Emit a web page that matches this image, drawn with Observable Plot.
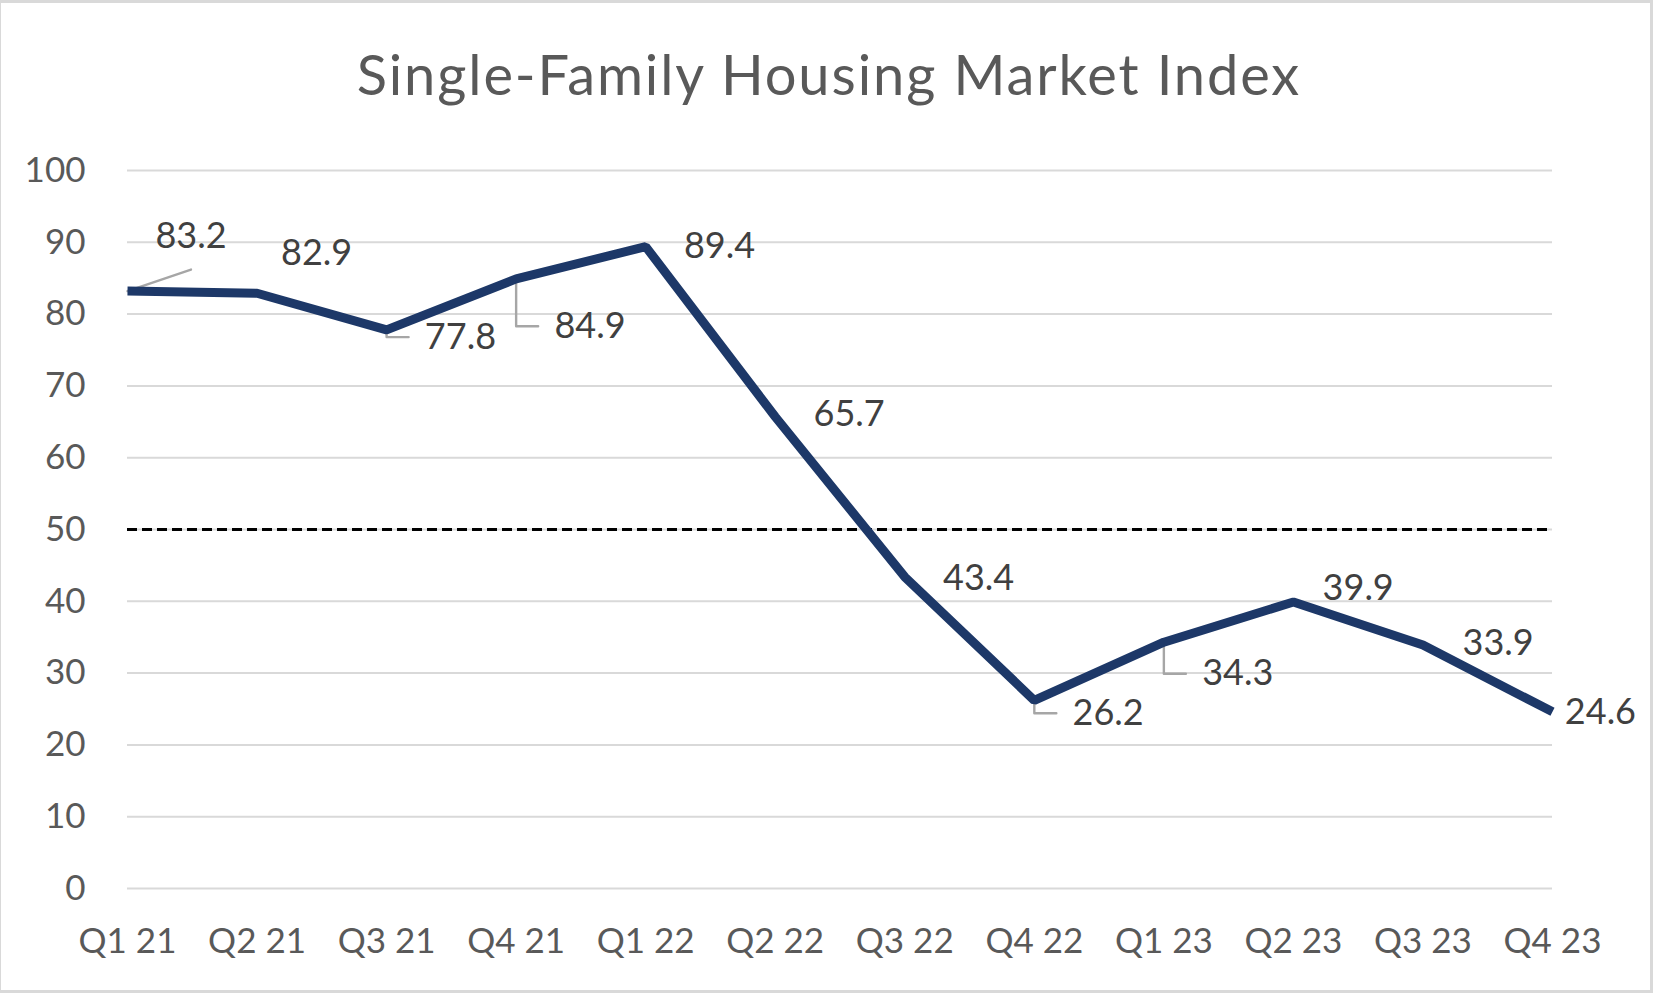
<!DOCTYPE html>
<html>
<head>
<meta charset="utf-8">
<script src="https://cdn.jsdelivr.net/npm/d3@7"></script>
<script src="https://cdn.jsdelivr.net/npm/@observablehq/plot@0.6"></script>
<style>
  html, body { margin: 0; padding: 0; background: #fff; }
  #wrap { position: relative; width: 1653px; height: 993px; overflow: hidden; background: #fff; font-family: Lato, sans-serif; }
  #frame { position: absolute; left: 0; top: 0; width: 1653px; height: 993px; box-sizing: border-box;
           border-top: 3px solid #d9d9d9; border-right: 3px solid #d9d9d9; border-bottom: 3px solid #d9d9d9; border-left: 1px solid #d9d9d9; pointer-events: none; }
  #title { position: absolute; left: 0; top: 46px; width: 1656px; text-align: center; font-size: 56px; line-height: 56px; letter-spacing: 1.9px; padding-left: 1.9px; box-sizing: border-box; color: #595959; white-space: nowrap; }
  #plot { position: absolute; left: 0; top: 120px; }
</style>
</head>
<body>
<div id="wrap">
  <div id="title">Single-Family Housing Market Index</div>
  <div id="plot"></div>
  <div id="frame"></div>
</div>
<script>
// ---- data ----
const quarters = ["Q1 21","Q2 21","Q3 21","Q4 21","Q1 22","Q2 22","Q3 22","Q4 22","Q1 23","Q2 23","Q3 23","Q4 23"];
const values = [83.2, 82.9, 77.8, 84.9, 89.4, 65.7, 43.4, 26.2, 34.3, 39.9, 33.9, 24.6];
const yTicks = [0, 10, 20, 30, 40, 50, 60, 70, 80, 90, 100];
const threshold = 50;

// ---- label layout (offset in category steps, label centre in value units) ----
const labelDx = [0.49, 0.46, 0.57, 0.57, 0.57, 0.57, 0.57, 0.57, 0.57, 0.50, 0.58, 0.37];
const labelY  = [90.8, 88.5, 76.8, 78.3, 89.4, 66.0, 43.2, 24.4, 29.9, 41.85, 34.1, 24.55];
const leaderKind = ["diag", null, "elbow", "elbow", null, null, null, "elbow", "elbow", null, null, null];

const data = quarters.map((q, i) => ({i, q, v: values[i]}));
const labels = data.map(d => ({x: d.i + labelDx[d.i], y: labelY[d.i], text: d.v.toFixed(1)}));
const leaders = [];
data.forEach(d => {
  const k = leaderKind[d.i];
  if (k === "diag") {
    leaders.push({k: d.i, x: d.i, y: d.v});
    leaders.push({k: d.i, x: d.i + labelDx[d.i], y: labelY[d.i] - 4.6});
  } else if (k === "elbow") {
    leaders.push({k: d.i, x: d.i, y: d.v});
    leaders.push({k: d.i, x: d.i, y: labelY[d.i]});
    leaders.push({k: d.i, x: d.i + labelDx[d.i] - 0.40, y: labelY[d.i]});
  }
});

const chart = Plot.plot({
  width: 1653,
  height: 870,
  marginLeft: 127,
  marginRight: 101,
  marginTop: 50,
  marginBottom: 102,
  style: {fontFamily: "Lato, sans-serif", fontSize: "35px", background: "transparent", overflow: "visible", color: "#595959"},
  x: {type: "linear", domain: [0, quarters.length - 1]},
  y: {domain: [0, 100]},
  marks: [
    Plot.gridY(yTicks, {stroke: "#d9d9d9", strokeOpacity: 1, strokeWidth: 2}),
    Plot.ruleY([threshold], {stroke: "#000", strokeWidth: 2.8, strokeDasharray: "10,5"}),
    Plot.axisY(yTicks, {tickSize: 0, tickPadding: 42, fill: "#595959", fontSize: 35, label: null}),
    Plot.axisX(d3.range(quarters.length), {tickSize: 0, tickPadding: 40, tickFormat: i => quarters[i], fill: "#595959", fontSize: 35, label: null}),
    Plot.line(leaders, {x: "x", y: "y", z: "k", stroke: "#a6a6a6", strokeWidth: 2.4, curve: "linear"}),
    Plot.line(data, {x: "i", y: "v", stroke: "#1d3868", strokeWidth: 9, strokeLinejoin: "miter", strokeLinecap: "butt"}),
    Plot.text(labels, {x: "x", y: "y", text: "text", fill: "#404040", fontSize: 36, textAnchor: "middle", lineAnchor: "middle"})
  ]
});
document.getElementById("plot").appendChild(chart);
</script>
</body>
</html>
